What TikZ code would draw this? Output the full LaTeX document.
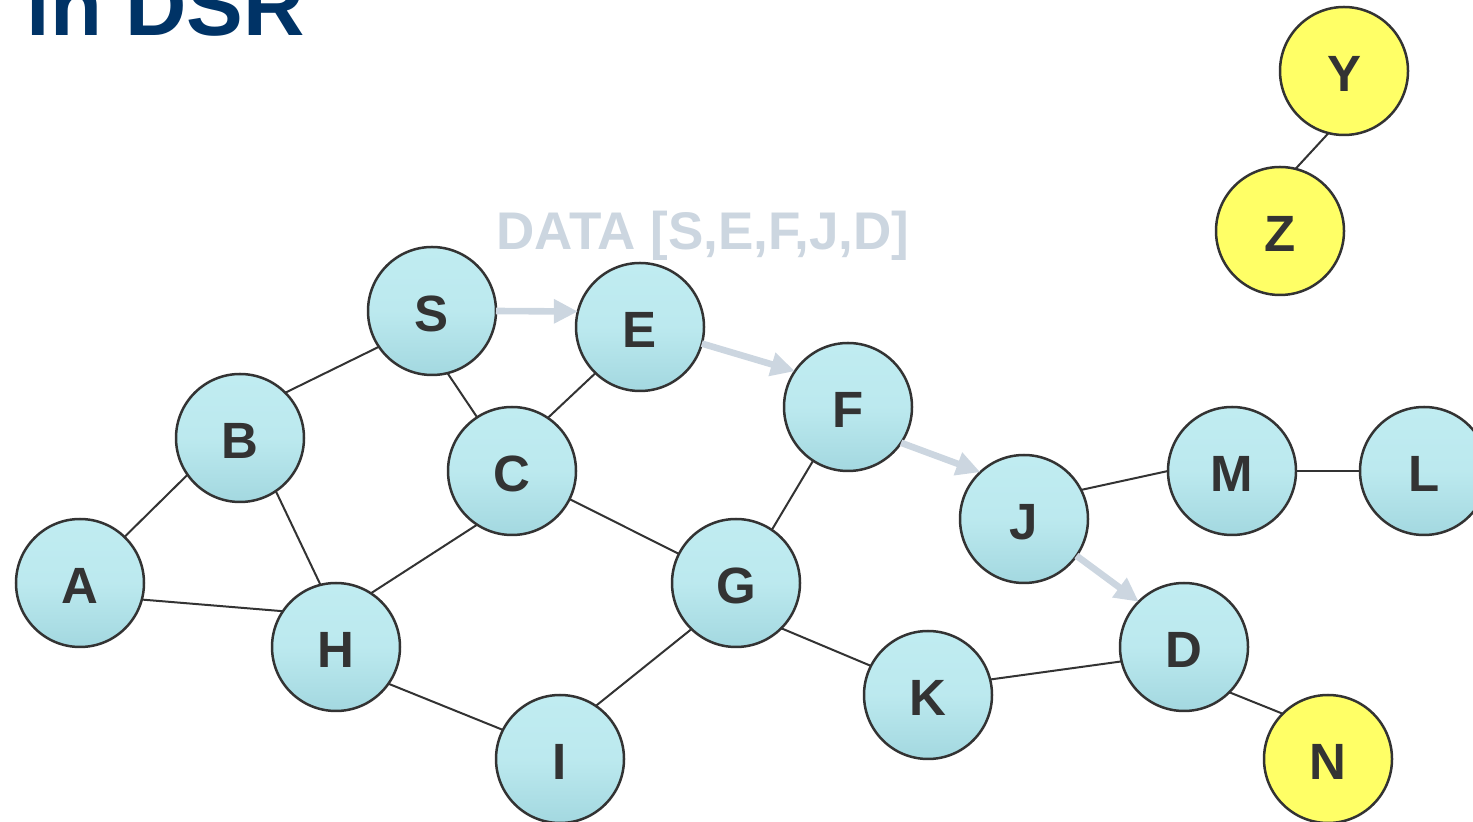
\documentclass[tikz,border=0pt]{standalone}
\usepackage{fontspec}
\setmainfont{Liberation Sans}
\usetikzlibrary{arrows.meta}
\definecolor{nodeline}{HTML}{333333}
\definecolor{bubtop}{HTML}{C0ECF1}
\definecolor{bubbot}{HTML}{A3D8E0}
\definecolor{yel}{HTML}{FFFF66}
\definecolor{arrowc}{HTML}{CCD6E0}
\definecolor{titlec}{HTML}{003366}
\tikzset{
  host/.style={circle, draw=nodeline, line width=1.25pt, minimum size=64pt,
    inner sep=0pt, outer sep=0pt, text=nodeline, text height=21pt, text depth=0pt,
    font=\fontsize{25.5}{25.5}\selectfont\bfseries},
  wet/.style={host, top color=bubtop, bottom color=bubbot, middle color=bubtop!85!bubbot},
  dry/.style={host, fill=yel},
  link/.style={draw=nodeline, line width=1pt},
  route/.style={draw=arrowc, line width=3.3pt, -{Triangle[length=12pt,width=11.5pt]}},
}
\begin{document}
\begin{tikzpicture}[x=0.5pt,y=-0.5pt]
\useasboundingbox (0,0) rectangle (1473,822);
\node[anchor=base west, text=titlec, font=\fontsize{42.5}{42.5}\selectfont\bfseries, inner sep=0pt] (title) at (26,36) {in DSR};
\node[text=arrowc, font=\fontsize{26.5}{26.5}\selectfont\bfseries, inner sep=0pt] (data) at (703,236) {DATA [S,E,F,J,D]};
\node[wet] (S) at (432,311) {S};
\node[wet] (E) at (640,327) {E};
\node[wet] (B) at (240,438) {B};
\node[wet] (C) at (512,471) {C};
\node[wet] (F) at (848,407) {F};
\node[wet] (A) at (80,583) {A};
\node[wet] (H) at (336,647) {H};
\node[wet] (G) at (736,583) {G};
\node[wet] (J) at (1024,519) {J};
\node[wet] (M) at (1232,471) {M};
\node[wet] (L) at (1424,471) {L};
\node[wet] (D) at (1184,647) {D};
\node[wet] (K) at (928,695) {K};
\node[wet] (I) at (560,759) {I};
\node[dry] (N) at (1328,759) {N};
\node[dry] (Y) at (1344,71) {Y};
\node[dry] (Z) at (1280,231) {Z};
% links
\draw[link] (B.45) -- (S.214);
\draw[link] (S.284) -- (C.123);
\draw[link] (C.56) -- (E.226);
\draw[link] (A.46) -- (B.215);
\draw[link] (B.304) -- (H.104);
\draw[link] (A.345) -- (H.146);
\draw[link] (H.57) -- (C.237);
\draw[link] (C.334) -- (G.153);
\draw[link] (F.237) -- (G.56);
\draw[link] (H.325) -- (I.153);
\draw[link] (I.56) -- (G.226);
\draw[link] (G.315) -- (K.153);
\draw[link] (K.14) -- (D.193);
\draw[link] (D.315) -- (N.135);
\draw[link] (J.27) -- (M.180);
\draw[link] (M.0) -- (L.180);
\draw[link] (Y.256) -- (Z.76);
% route
\draw[route] (S.0) -- (E.166);
\draw[route] (E.345) -- (F.146);
\draw[route] (F.326) -- (J.133);
\draw[route] (J.325) -- (D.135);
\end{tikzpicture}
\end{document}
